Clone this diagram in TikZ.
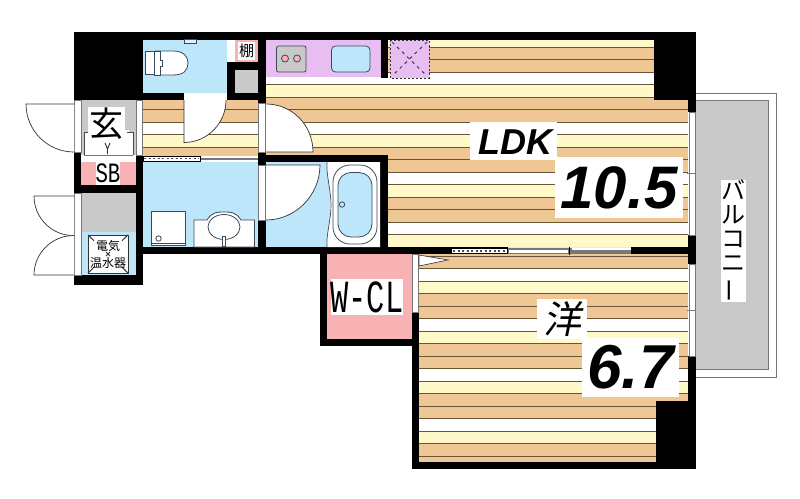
\documentclass[tikz,border=0pt]{standalone}
\usepackage{fontspec}
\setmainfont{Liberation Sans}
\newfontfamily\jp{Noto Sans CJK JP}
\newfontfamily\jpslant[FakeSlant=0.2]{Noto Sans CJK JP}
\newfontfamily\monof{Liberation Mono}
\definecolor{tanb}{HTML}{EFC794}
\definecolor{yelb}{HTML}{FFF9C9}
\definecolor{fline}{HTML}{6A5636}
\definecolor{bluef}{HTML}{BEE6FA}
\definecolor{pinkf}{HTML}{F9B2B4}
\definecolor{violf}{HTML}{E8BDF2}
\definecolor{grayf}{HTML}{C9C9C9}
\definecolor{edgeg}{HTML}{777777}
\definecolor{fixt}{HTML}{3A4A5A}
\tikzset{
  wall/.style={fill=black,draw=none},
  strip/.style={fill=white,draw=edgeg,line width=0.7pt},
  fixture/.style={draw=fixt,line width=0.8pt},
  doorleaf/.style={fill=white,draw=black!80,line width=0.7pt},
  lab/.style={fill=white,inner sep=0pt,text=black,align=center},
}
\newcommand{\floorbands}[3]{%
  \foreach \yy/\cc in {#1}{
    \fill[\cc] (#2,\yy) rectangle (#3,\yy+12.5);
    \draw[fline,line width=1.1pt] (#2,\yy+12.5) -- (#3,\yy+12.5);
  }}
\begin{document}
\begin{tikzpicture}[x=1pt,y=-1pt]
\useasboundingbox (0,0) rectangle (800,498);
\fill[white] (0,0) rectangle (800,498);
% balcony
\draw[fill=white,draw=edgeg,line width=0.8pt] (690,93.5) rectangle (776,377);
\draw[fill=grayf,draw=edgeg,line width=0.8pt] (690,100.5) rectangle (768,369.5);
% floor LDK
\begin{scope}
\clip (266,39) -- (654,39) -- (654,100) -- (688,100) -- (688,247) -- (388,247) -- (388,155) -- (266,155) -- cycle;
\floorbands{35/yelb,47.5/tanb,60/tanb,72.5/white,85/yelb,97.5/tanb,110/tanb,122.5/white,135/yelb,147.5/tanb,160/tanb,172.5/white,185/yelb,197.5/tanb,210/tanb,222.5/white,235/yelb}{266}{688}
\end{scope}
% corridor floor
\begin{scope}
\clip (143,100) rectangle (258,156);
\floorbands{97.5/tanb,110/tanb,122.5/white,135/yelb,147.5/tanb}{143}{258}
\end{scope}
% bedroom floor
\begin{scope}
\clip (419,254) -- (688,254) -- (688,401) -- (656,401) -- (656,462) -- (419,462) -- cycle;
\floorbands{244/tanb,256.5/tanb,269/white,281.5/yelb,294/tanb,306.5/tanb,319/white,331.5/yelb,344/tanb,356.5/tanb,369/white,381.5/yelb,394/tanb,406.5/tanb,419/white,431.5/yelb,444/tanb,456.5/tanb}{419}{688}
\end{scope}
% rooms
\fill[bluef] (143,39) rectangle (227,93);
\fill[white] (227,39) rectangle (235,62);
\fill[pinkf] (235,39) rectangle (258,62);
\fill[bluef] (143,160) rectangle (258,247);
\fill[bluef] (266,162) rectangle (330,247);
\fill[pinkf] (327,254) rectangle (412,339);
\fill[violf] (266,40) rectangle (381,77);
\fill[grayf] (81,100) rectangle (136,155);
\fill[pinkf] (81,162) rectangle (136,185);
\fill[grayf] (81,193) rectangle (136,232);
\fill[bluef] (81,232) rectangle (136,277);
% walls
\fill[wall] (74,32) rectangle (696,39.5);
\fill[wall] (74,32) rectangle (143,100);
\fill[wall] (143,93) rectangle (184,100);
\fill[wall] (227,62) rectangle (266,100);
\fill[wall] (258,39) rectangle (266,103);
\fill[wall] (654,32) rectangle (696,100);
\fill[wall] (688,100) rectangle (696,112);
\fill[wall] (381,39) rectangle (388,78);
\fill[wall] (74,152) rectangle (81,193);
\fill[wall] (74,275) rectangle (143,285);
\fill[wall] (136,155) rectangle (143,285);
\fill[wall] (81,185) rectangle (136,193);
\fill[wall] (258,152) rectangle (266,165);
\fill[wall] (258,155) rectangle (388,162);
\fill[wall] (380,155) rectangle (388,254);
\fill[wall] (258,220) rectangle (266,254);
\fill[wall] (136,247) rectangle (450,254);
\fill[wall] (631,247) rectangle (696,254);
\fill[wall] (688,235) rectangle (696,264);
\fill[wall] (688,356) rectangle (696,469);
\fill[wall] (656,401) rectangle (696,469);
\fill[wall] (412,462) rectangle (696,469);
\fill[wall] (412,312) rectangle (419,469);
\fill[wall] (320,254) rectangle (327,346);
\fill[wall] (320,339) rectangle (419,346);
% gray block under shelf and shelf frame
\fill[grayf] (235,70) rectangle (258,93);
\fill[white] (184,93) rectangle (227,100);
% strips (doors and windows)
\draw[strip] (74,100.5) rectangle (81,152);
\draw[strip] (74,193) rectangle (81,275);
\draw[strip] (136.5,100) rectangle (142.5,155);
\draw[strip] (258.5,103) rectangle (265.5,152);
\draw[strip] (258.5,165) rectangle (265.5,220);
\draw[strip] (412.5,254) rectangle (418.5,312);
\draw[strip] (689.5,112) rectangle (695.5,173);
\draw[strip] (689.5,173) rectangle (695.5,235);
\draw[strip] (689.5,264) rectangle (695.5,310);
\draw[strip] (689.5,310) rectangle (695.5,356);
\draw[edgeg,line width=0.7pt] (687,173) -- (696,173) (687,310) -- (696,310);
% sliding door corridor / wash
\fill[white] (143,155.5) rectangle (258,161.5);
\fill[edgeg] (200,157.5) rectangle (258,159.5);
\draw[black,line width=0.8pt] (143,156) rectangle (200,161);
\draw[black!70,line width=1.5pt,dash pattern=on 2pt off 2.5pt] (144,158.5) -- (199,158.5);
% sliding door LDK / bedroom
\fill[black] (450,247) rectangle (508,254);
\fill[white] (452,249) rectangle (507,253);
\draw[black!70,line width=1.5pt,dash pattern=on 2pt off 2.5pt] (453,251) -- (507,251);
\fill[edgeg] (508,248) rectangle (631,253.5);
\fill[white] (509,250) rectangle (568,253);
\fill[white] (572,247.8) rectangle (631,249.8);
\draw[black,line width=0.7pt] (569.5,246.5) -- (569.5,254.5);
% door leaves
\draw[doorleaf] (74,104) -- (26,104) .. controls (26,130.5) and (47.5,152) .. (74,152);
\draw[doorleaf] (74,196) -- (34,196) .. controls (34,218) and (52,236) .. (74,235.5);
\draw[doorleaf] (74,275) -- (34,275) .. controls (34,253) and (52,235.5) .. (74,235.5);
\draw[doorleaf] (184,100) -- (184,142.5) .. controls (207,142.5) and (226,123.5) .. (226,100);
\draw[doorleaf] (266,104) .. controls (292.5,104) and (313,125.5) .. (313,152) -- (266,152);
\draw[doorleaf] (266,165) -- (320,165) .. controls (320,195.4) and (295.4,220) .. (266,220);
% toilet
\draw[fixture,fill=bluef!50!white] (184,39.5) rectangle (196,43);
\draw[fixture,fill=white] (155,51) -- (173,51) .. controls (184,51) and (188,57) .. (188,63) .. controls (188,70) and (184,75) .. (173,75) -- (155,75) -- cycle;
\draw[fixture,fill=white] (145,51.5) rectangle (154,74.5);
\draw[fixture,fill=white] (154,51) -- (160,51) -- (160,60) -- (162,60) -- (162,66) -- (160,66) -- (160,75) -- (154,75) -- cycle;
% kitchen
\draw[fixture,fill=grayf,rounded corners=2pt] (276.5,46) rectangle (306,72);
\draw[fixture,fill=pinkf] (285,58.5) circle[radius=3.5];
\draw[fixture,fill=pinkf] (297,58.5) circle[radius=3.5];
\draw[fixture,fill=bluef,rounded corners=4pt] (331.5,46) rectangle (370,72);
\fill[violf] (390,40) rectangle (429,78);
\draw[black!80,line width=1pt,dash pattern=on 2pt off 2pt] (390,40) rectangle (429,78);
\draw[black!70!violf,line width=1pt,dash pattern=on 3pt off 4pt] (392,42) -- (427,76) (427,42) -- (392,76);
% genkan
\fill[white] (84,132) -- (88,132) -- (88,130) -- (129,130) -- (129,132) -- (133,132) -- (133,155) -- (84,155) -- cycle;
\draw[edgeg!60!black,line width=0.8pt] (84,155) -- (84,132) -- (90,132);
\draw[edgeg!60!black,line width=0.8pt] (133,155) -- (133,132) -- (127,132);
\fill[white] (84,155) rectangle (133,162);
\draw[edgeg,line width=0.6pt] (84,155) -- (133,155);
\draw[black!80,line width=0.9pt] (105,143) -- (107.5,149) -- (110,143) (107.5,149) -- (107.5,154);
% water heater
\fill[white] (88,235) rectangle (128,273);
\draw[black!80,line width=0.8pt] (88,235) rectangle (128,273);
\draw[black!80,line width=1pt] (88,235) -- (94,240.7) (128,235) -- (122,240.7) (88,273) -- (94,267.3) (128,273) -- (122,267.3) (106,252) -- (110,256) (110,252) -- (106,256);
% laundry pan and basin
\draw[fixture,fill=white] (151.5,211) rectangle (185,245.5);
\draw[fixture,line width=0.8pt] (151.5,243.5) -- (185,243.5);
\draw[fixture] (158.5,238.5) circle[radius=2.7];
\draw[fixture,fill=white] (194,247) -- (194,220) -- (207,220) .. controls (212,212) and (217,212) .. (224,212) .. controls (231,212) and (236,212) .. (241,220) -- (254.5,220) -- (254.5,247) -- cycle;
\draw[fixture,fill=white] (224,227) ellipse[x radius=16,y radius=12.5];
\draw[fixture,fill=white] (222,236) rectangle (225.5,246);
% bath
\fill[white] (327,162) .. controls (326,175) and (331,190) .. (331,205) .. controls (331,220) and (326,235) .. (327,247) -- (380,247) -- (380,162) -- cycle;
\draw[fixture,line width=0.7pt] (327,162) .. controls (326,175) and (331,190) .. (331,205) .. controls (331,220) and (326,235) .. (327,247);
\draw[fixture,rounded corners=17pt] (333,165) rectangle (377,244);
\draw[fixture,fill=bluef,rounded corners=13pt] (338,172.5) rectangle (372,237);
\draw[fixture] (342,204.5) circle[radius=2.7];
% small door triangle
\draw[doorleaf,line width=0.6pt] (419,255) -- (448,260) -- (419,266) -- cycle;
% labels
\node[lab,minimum width=86.5pt,minimum height=38pt] (ldkbox) at (513.5,141) {};
\node[inner sep=0pt] (ldk) at (515,142) {\fontsize{36}{36}\selectfont\bfseries\itshape LDK};
\node[lab,minimum width=128pt,minimum height=61pt] (a) at (619,187.5) {\fontsize{60}{60}\selectfont\bfseries\itshape 10.5};
\node[lab,minimum width=97pt,minimum height=59pt] (b) at (630.5,367.5) {\fontsize{62}{62}\selectfont\bfseries\itshape 6.7};
\node[lab,minimum width=50pt,minimum height=40pt] (yo) at (562,319) {\fontsize{38}{38}\selectfont\jpslant 洋};
\node[lab,minimum width=72pt,minimum height=36pt] (wcl) at (367,297) {\scalebox{0.66}[1]{\fontsize{46}{46}\selectfont\monof W-CL}};
\node[lab,minimum width=24pt,minimum height=23pt] (sb) at (108,173.5) {\scalebox{0.74}[1]{\fontsize{28}{28}\selectfont\monof SB}};
\node[lab,minimum width=37pt,minimum height=33pt] (gen) at (106.5,123.5) {\fontsize{34}{34}\selectfont\jp 玄};
\node[lab,minimum width=17pt,minimum height=18pt] (tana) at (246.5,50.5) {\fontsize{15}{15}\selectfont\jp 棚};
\node[inner sep=0pt,align=center,font=\fontsize{12}{17}\selectfont\jp] (heat) at (108,254) {電気\\温水器};
\node[lab,minimum width=25pt,minimum height=122pt] (balc) at (733.5,241) {};
\node[inner sep=0pt,align=center,font=\fontsize{24}{24}\selectfont\jp] (balct) at (733.5,241) {バ\\ル\\コ\\ニ\\\rotatebox[origin=c]{90}{ー}};
\end{tikzpicture}
\end{document}
